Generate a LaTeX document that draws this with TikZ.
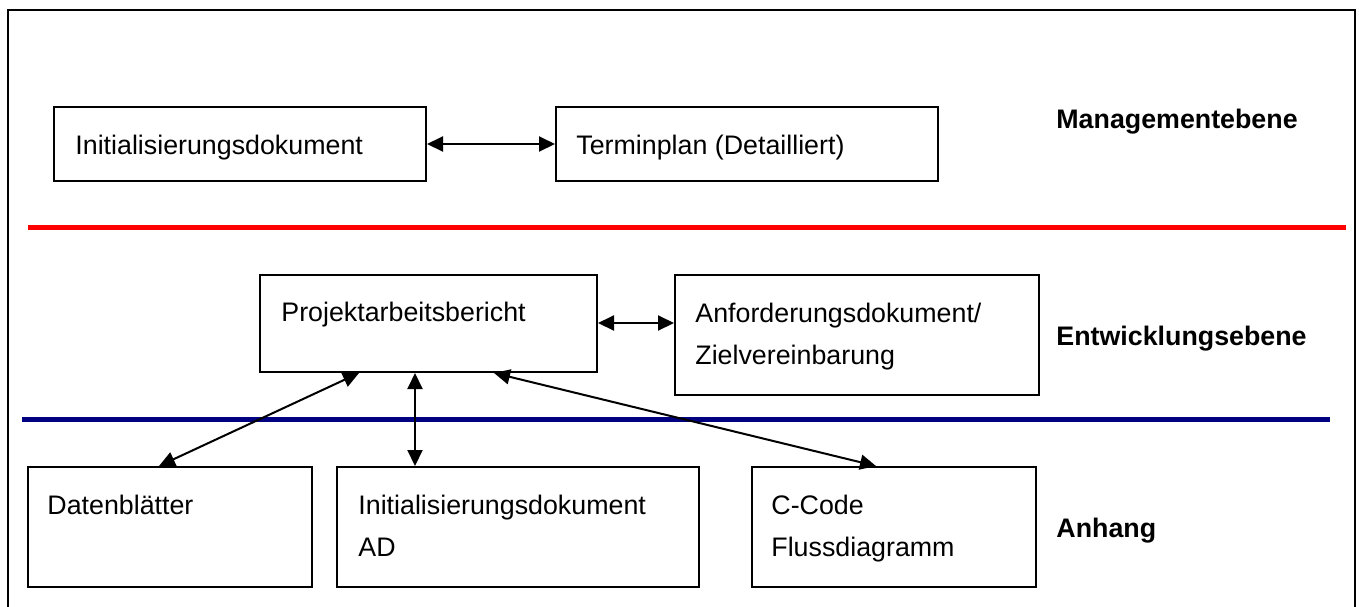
\documentclass[tikz,border=0pt]{standalone}
\usepackage{fontspec}
\setmainfont{Liberation Sans}
\usetikzlibrary{arrows.meta}
\begin{document}
\begin{tikzpicture}[x=0.5pt,y=-0.5pt,
  every node/.style={font=\fontsize{13.4}{21}\selectfont},
  boxsz/.style 2 args={minimum width=#1*0.5pt, minimum height=#2*0.5pt},
  docbox/.style={draw, line width=1pt, inner sep=0pt, rectangle},
  doctext/.style={anchor=base west, inner sep=0pt, align=left},
  level/.style={anchor=base west, inner sep=0pt, font=\fontsize{13.4}{21}\selectfont\bfseries},
  conn/.style={line width=1pt, {Triangle[length=8pt,width=7.5pt]}-{Triangle[length=8pt,width=7.5pt]}},
  sepline/.style={line width=2.5pt}
]
\useasboundingbox (0,0) rectangle (1359,606);
% outer frame
\draw[line width=1pt] (8,650) -- (8,10) -- (1355,10) -- (1355,650);

% separator lines
\draw[sepline, red] (28,227.5) -- (1346,227.5);
\definecolor{navyblue}{RGB}{0,0,128}
\draw[sepline, navyblue] (22,419) -- (1330,419);

% boxes
\node[docbox, boxsz={372}{74}] (ini) at (240,144) {};
\node[docbox, boxsz={382}{74}] (term) at (747,144) {};
\node[docbox, boxsz={337}{97}] (proj) at (428.5,323.5) {};
\node[docbox, boxsz={364}{120}] (anf) at (857,335) {};
\node[docbox, boxsz={284}{120}] (dat) at (170,527) {};
\node[docbox, boxsz={362}{120}] (iad) at (518,527) {};
\node[docbox, boxsz={284}{120}] (ccd) at (894,527) {};

% box texts
\node[doctext] (tini) at ([shift={(22,48)}]ini.north west) {Initialisierungsdokument};
\node[doctext] (tterm) at ([shift={(21,48)}]term.north west) {Terminplan (Detailliert)};
\node[doctext] (tproj) at ([shift={(22,47)}]proj.north west) {Projektarbeitsbericht};
\node[doctext] (tanf1) at ([shift={(21,48)}]anf.north west) {Anforderungsdokument/};
\node[doctext] (tanf2) at ([shift={(21,90)}]anf.north west) {Zielvereinbarung};
\node[doctext] (tdat) at ([shift={(20,48)}]dat.north west) {Datenblätter};
\node[doctext] (tiad1) at ([shift={(22,48)}]iad.north west) {Initialisierungsdokument};
\node[doctext] (tiad2) at ([shift={(22,90)}]iad.north west) {AD};
\node[doctext] (tccd1) at ([shift={(20,48)}]ccd.north west) {C-Code};
\node[doctext] (tccd2) at ([shift={(20,90)}]ccd.north west) {Flussdiagramm};

% level labels
\node[level] (lm) at (1056,128) {Managementebene};
\node[level] (le) at (1056,345) {Entwicklungsebene};
\node[level] (la) at (1056,537) {Anhang};

% connectors
\draw[conn] (ini.east) -- (term.west);
\draw[conn] ([shift={(0,-0.5)}]proj.east) -- ([shift={(0,-0.5)}]proj.east -| anf.west);
\draw[conn] ([shift={(100,0)}]proj.south west) -- ([shift={(132,0)}]dat.north west);
\draw[conn] ([shift={(156,0)}]proj.south west) -- ([shift={(79,0)}]iad.north west);
\draw[conn] ([shift={(235,0)}]proj.south west) -- ([shift={(125,0)}]ccd.north west);
\end{tikzpicture}
\end{document}
